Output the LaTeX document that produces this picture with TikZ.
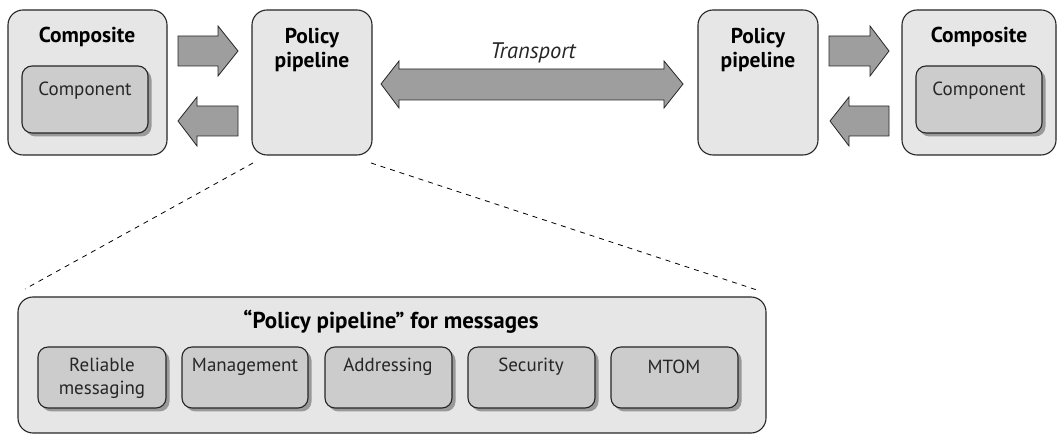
\documentclass[tikz,border=0pt]{standalone}
\usepackage{fontspec}
\setmainfont{PT Sans}
\usetikzlibrary{shapes.arrows,shadows}
\definecolor{outerfill}{HTML}{E6E6E6}
\definecolor{innerfill}{HTML}{CCCCCC}
\definecolor{shadowc}{HTML}{999999}
\definecolor{arrowfill}{HTML}{9E9E9E}
\begin{document}
\begin{tikzpicture}[x=1pt,y=-1pt,
  outerbox/.style={draw=black!85,line width=1.1pt,fill=outerfill,rounded corners=15pt},
  innerbox/.style={draw=black!85,line width=1.1pt,fill=innerfill,rounded corners=10pt,
     drop shadow={shadow xshift=3.5pt,shadow yshift=-3.5pt,fill=shadowc,opacity=1}},
  fatarrow/.style={draw=black!85,line width=0.8pt,fill=arrowfill},
  title/.style={font=\bfseries\fontsize{21.5}{24}\selectfont,align=center},
  label/.style={font=\fontsize{19}{23}\selectfont,align=center,text=black!85},
  dashline/.style={dashed,line width=0.8pt,dash pattern=on 5pt off 5pt}]
\useasboundingbox (0,0) rectangle (1058,435);

% left composite
\draw[outerbox] (8,10) rectangle (167,155);
\node[title] (lcomp) at (87,37) {Composite};
\draw[innerbox] (22,66) rectangle (148,133);
\node[label] (lcomptxt) at (85,91) {Component};

% left policy pipeline
\draw[outerbox] (252,10) rectangle (372,155);
\node[title] (lpol) at (312,50) {Policy\\pipeline};

% right policy pipeline
\draw[outerbox] (698,10) rectangle (818,155);
\node[title] (rpol) at (758,50) {Policy\\pipeline};

% right composite
\draw[outerbox] (902,10) rectangle (1056,155);
\node[title] (rcomp) at (979,37) {Composite};
\draw[innerbox] (916,66) rectangle (1042,133);
\node[label] (rcomptxt) at (979,91) {Component};

% small arrows left
\draw[fatarrow] (178,36) -- (218,36) -- (218,26) -- (238,51) -- (218,76) -- (218,66) -- (178,66) -- cycle;
\draw[fatarrow] (238,106) -- (197,106) -- (197,97) -- (178,121) -- (197,146) -- (197,136) -- (238,136) -- cycle;
% small arrows right
\draw[fatarrow] (829,36) -- (870,36) -- (870,26) -- (889,51) -- (870,76) -- (870,66) -- (829,66) -- cycle;
\draw[fatarrow] (889,106) -- (849,106) -- (849,97) -- (830,121) -- (849,146) -- (849,136) -- (889,136) -- cycle;

% transport arrow
\draw[fatarrow] (381,84) -- (399,61) -- (399,69) -- (664,69) -- (664,61) -- (683,84) -- (664,108) -- (664,100) -- (399,100) -- (399,108) -- cycle;
\node[font=\itshape\fontsize{22.5}{24}\selectfont,text=black!85] (transport) at (533,53) {Transport};

% dashed zoom lines
\coordinate (d1a) at (253,163);
\coordinate (d1b) at (25,289);
\coordinate (d2a) at (371,163);
\coordinate (d2b) at (757,290);
\draw[dashline] (d1a) -- (d1b);
\draw[dashline] (d2a) -- (d2b);

% bottom big box
\draw[outerbox] (18,297) rectangle (766,433);
\node[title,font=\bfseries\fontsize{23}{26}\selectfont] (ptitle) at (391,322) {“Policy pipeline” for messages};

\draw[innerbox] (38,347) rectangle (166,408);
\node[label] (rel) at (102,378) {Reliable\\messaging};
\draw[innerbox] (182,347) rectangle (308,408);
\node[label] (mgmt) at (245,367) {Management};
\draw[innerbox] (325,347) rectangle (452,408);
\node[label] (addr) at (388,367) {Addressing};
\draw[innerbox] (468,347) rectangle (595,408);
\node[label] (sec) at (531,367) {Security};
\draw[innerbox] (611,347) rectangle (738,408);
\node[label] (mtom) at (674,367) {MTOM};
\end{tikzpicture}
\end{document}
